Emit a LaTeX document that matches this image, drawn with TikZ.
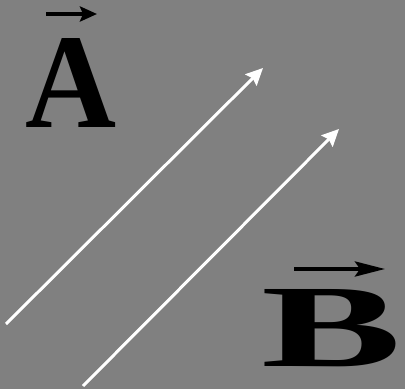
\documentclass[tikz,border=0pt]{standalone}
\usepackage{fontspec}
\setmainfont{Liberation Serif}
\usetikzlibrary{arrows.meta}
\definecolor{bg}{RGB}{128,128,128}
\begin{document}
\begin{tikzpicture}[x=1pt,y=1pt,
  vecline/.style={white,line width=3pt,-{Stealth[length=17pt,width=16pt,inset=2.5pt]}},
  accent/.style={black,line width=4pt},
  letter/.style={inner sep=0pt,outer sep=0pt,font=\bfseries}]
\fill[bg] (0,0) rectangle (405,389);
\useasboundingbox (0,0) rectangle (405,389);
% white vectors
\coordinate (a1s) at (6,65);
\coordinate (a1e) at (263,321);
\coordinate (a2s) at (83,3);
\coordinate (a2e) at (339,260);
\draw[vecline] (a1s) -- (a1e);
\draw[vecline] (a2s) -- (a2e);
% labels
\node[letter] (A) at (71,306.5) {\resizebox{91pt}{89pt}{A}};
\node[letter] (B) at (332,60.5) {\resizebox{140pt}{77pt}{B}};
% accent arrows
\coordinate (va1) at (46,375);
\coordinate (va2) at (97,375);
\coordinate (vb1) at (294,120);
\coordinate (vb2) at (385,120);
\draw[accent,-{Stealth[length=17pt,width=15pt,inset=3pt]}] (va1) -- (va2);
\draw[accent,-{Stealth[length=30pt,width=15pt,inset=5pt]}] (vb1) -- (vb2);
\end{tikzpicture}
\end{document}
